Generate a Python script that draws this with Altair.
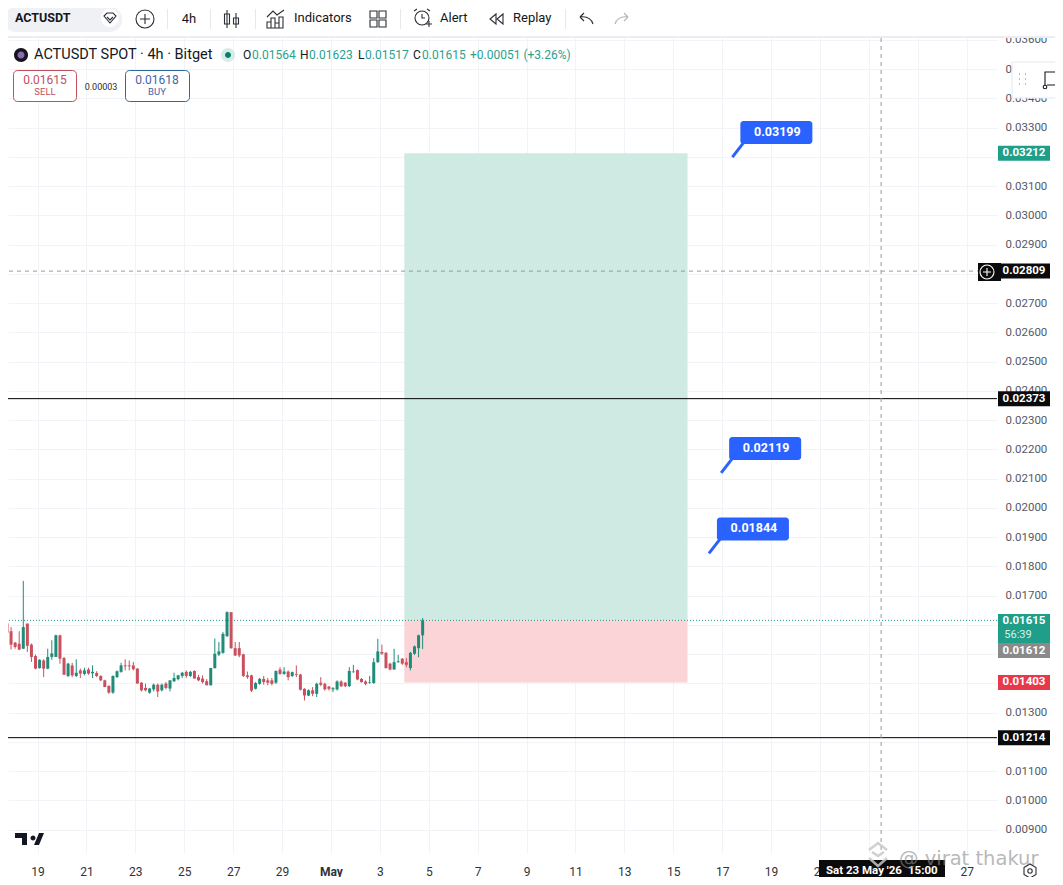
import altair as alt
import pandas as pd

# ---------- candle data (in 1e-5 USDT) ----------
opens = [1604,1578,1539,1535,1518,1604,1532,1493,1452,1478,1450,1490,1490,1564,1486,1425,1461,1425,1444,1432,
         1447,1434,1435,1425,1410,1391,1368,1421,1439,1461,1461,1461,1450,1402,1384,1368,1379,1395,1376,1399,
         1382,1407,1414,1425,1439,1425,1442,1421,1416,1407,1393,1452,1498,1504,1561,1643,1520,1520,1499,1427,
         1427,1381,1398,1415,1410,1410,1402,1447,1432,1440,1425,1432,1430,1381,1358,1376,1364,1402,1398,1389,
         1379,1379,1406,1402,1390,1438,1445,1415,1406,1402,1401,1472,1507,1504,1467,1447,1472,1484,1472,1452,
         1501,1520,1564]
highs = [1623,1592,1541,1578,1750,1604,1536,1498,1482,1482,1518,1547,1566,1566,1490,1470,1470,1482,1450,1453,
         1453,1461,1441,1427,1412,1393,1427,1444,1470,1482,1478,1473,1452,1404,1399,1384,1399,1399,1399,1404,
         1410,1436,1429,1439,1444,1442,1444,1429,1427,1414,1452,1553,1541,1575,1646,1643,1541,1541,1501,1440,
         1429,1404,1418,1425,1418,1418,1444,1455,1455,1444,1440,1461,1432,1383,1379,1387,1402,1421,1402,1390,
         1387,1410,1410,1404,1455,1463,1447,1418,1410,1425,1486,1552,1532,1507,1470,1518,1497,1486,1486,1507,
         1529,1566,1623]
lows = [1558,1515,1518,1513,1518,1507,1473,1448,1450,1421,1448,1480,1490,1467,1429,1421,1421,1421,1418,1427,
        1429,1418,1421,1407,1387,1364,1364,1418,1436,1444,1444,1444,1399,1372,1372,1364,1372,1353,1372,1379,
        1372,1404,1410,1418,1418,1421,1416,1407,1399,1393,1393,1450,1493,1501,1558,1518,1493,1489,1421,1415,
        1370,1379,1395,1395,1393,1393,1398,1429,1429,1410,1421,1421,1375,1341,1356,1356,1353,1390,1375,1375,
        1370,1375,1387,1387,1387,1436,1410,1402,1393,1398,1398,1470,1497,1450,1444,1447,1470,1463,1455,1444,
        1497,1489,1517]
closes = [1573,1532,1524,1515,1592,1528,1490,1450,1480,1450,1490,1502,1564,1484,1429,1467,1427,1436,1433,1444,
          1433,1439,1425,1410,1387,1368,1425,1441,1461,1458,1458,1448,1399,1376,1376,1382,1395,1372,1395,1384,
          1410,1418,1427,1436,1425,1439,1416,1410,1404,1393,1452,1501,1509,1569,1643,1520,1495,1495,1425,1421,
          1375,1401,1415,1404,1402,1398,1442,1432,1440,1421,1438,1429,1378,1358,1376,1364,1398,1395,1379,1381,
          1383,1406,1390,1390,1442,1440,1413,1404,1398,1404,1472,1509,1501,1452,1447,1472,1475,1467,1463,1504,
          1526,1564,1615]
candle_times = pd.date_range("2026-04-17 18:00", periods=len(opens), freq="4h")

# ---------- axis values ----------
price_ticks = [0.009,0.010,0.011,0.012,0.013,0.014,0.015,0.016,0.017,0.018,0.019,0.020,0.021,0.022,
               0.023,0.024,0.025,0.026,0.027,0.028,0.029,0.030,0.031,0.032,0.033,0.034,0.035,0.036]
date_ticks = ["2026-04-19","2026-04-21","2026-04-23","2026-04-25","2026-04-27","2026-04-29","2026-05-01",
              "2026-05-03","2026-05-05","2026-05-07","2026-05-09","2026-05-11","2026-05-13","2026-05-15",
              "2026-05-17","2026-05-19","2026-05-21","2026-05-23","2026-05-25","2026-05-27"]

# ---------- drawing levels ----------
target_price, entry_price, stop_price = 0.03212, 0.01615, 0.01403
pos_start, pos_end = "2026-05-04T00:00:00Z", "2026-05-15T14:00:00Z"
level_prices = [0.02373, 0.01214]
cross_price, cross_time = 0.02809, "2026-05-23T12:00:00Z"
note_prices = [0.03199, 0.02119, 0.01844]
note_times = ["2026-05-17T10:00:00Z", "2026-05-16T23:00:00Z", "2026-05-16T11:00:00Z"]
tag_prices = [0.03212, 0.02373, 0.01214, 0.01403, 0.02809]
tag_texts = ["0.03212", "0.02373", "0.01214", "0.01403", "0.02809"]
tag_fills = ["#1f9e89", "#0b0b0b", "#0b0b0b", "#e8394a", "#0b0b0b"]

FONT = "Roboto"
GREEN, RED = "#1e8c79", "#c9505e"
GRID = "#f1f3f6"
LABEL = "#555963"


def iso(ts):
    return pd.Timestamp(ts).strftime("%Y-%m-%dT%H:%M:00Z")


def ms(ts):
    return int(pd.Timestamp(ts, tz="UTC").timestamp() * 1000)


candles = pd.DataFrame({
    "t": [iso(t) for t in candle_times],
    "o": [v / 1e5 for v in opens], "h": [v / 1e5 for v in highs],
    "l": [v / 1e5 for v in lows], "c": [v / 1e5 for v in closes],
})
candles["dir"] = ["up" if c >= o else "down" for o, c in zip(opens, closes)]

xs = alt.Scale(type="utc", nice=False, padding=0, domain=[ms("2026-04-17 19:00"), ms("2026-05-28 05:46")])
ys = alt.Scale(zero=False, nice=False, padding=0, domain=[0.008197, 0.036060])
dir_scale = alt.Scale(domain=["up", "down"], range=[GREEN, RED])

x_axis = alt.Axis(values=[ms(d) for d in date_ticks], title=None, domain=False, ticks=False, grid=True,
                  gridColor=GRID, gridWidth=1, labelColor="#2f323a", labelFont=FONT, labelFontSize=12,
                  labelPadding=13, labelFlush=False, labelOverlap=False,
                  labelExpr="utcdate(datum.value)==1 ? 'May' : utcdate(datum.value)",
                  labelFontWeight={"condition": {"test": "utcdate(datum.value)==1", "value": "bold"}, "value": "normal"})
y_axis = alt.Axis(values=price_ticks, orient="right", title=None, domain=False, ticks=False, grid=True,
                  gridColor=GRID, gridWidth=1, labelColor=LABEL, labelFont=FONT, labelFontSize=11.5,
                  labelPadding=8, format=".5f", labelFlush=False, labelOverlap=False)

X = lambda f="t:T": alt.X(f, scale=xs, axis=x_axis)
Y = lambda f: alt.Y(f, scale=ys, axis=y_axis)

layers = []

pos = pd.DataFrame({"a": [pos_start] * 2, "b": [pos_end] * 2,
                    "p0": [entry_price, entry_price], "p1": [target_price, stop_price],
                    "f": ["#cfe9e3", "#fbd4d7"]})
layers.append(alt.Chart(pos).mark_rect().encode(x=X("a:T"), x2="b:T", y=Y("p0:Q"), y2="p1:Q",
                                                fill=alt.Fill("f:N", scale=None)))

layers.append(alt.Chart(candles).mark_rule(strokeWidth=1).encode(
    x=X(), y=Y("h:Q"), y2="l:Q", color=alt.Color("dir:N", scale=dir_scale, legend=None)))
layers.append(alt.Chart(candles).mark_bar(size=3).encode(
    x=X(), y=Y("o:Q"), y2="c:Q", color=alt.Color("dir:N", scale=dir_scale, legend=None)))

# horizontal levels
layers.append(alt.Chart(pd.DataFrame({"p": level_prices})).mark_rule(color="#000000", strokeWidth=1).encode(y=Y("p:Q")))
layers.append(alt.Chart(pd.DataFrame({"p": [entry_price]})).mark_rule(color="#1e9a86", strokeWidth=1, strokeDash=[1, 2]).encode(y=Y("p:Q")))
layers.append(alt.Chart(pd.DataFrame({"p": [cross_price]})).mark_rule(color="#9598a1", strokeWidth=1, strokeDash=[4, 4]).encode(y=Y("p:Q")))
layers.append(alt.Chart(pd.DataFrame({"t": [cross_time]})).mark_rule(color="#9598a1", strokeWidth=1, strokeDash=[4, 4]).encode(x=X()))

# blue callouts
notes = pd.DataFrame({"t": note_times, "p": note_prices, "s": [f"{v:.5f}" for v in note_prices]})
layers.append(alt.Chart(notes).mark_rule(color="#2962ff", strokeWidth=3, x2Offset=14, y2Offset=-18).encode(
    x=X(), x2="t:T", y=Y("p:Q"), y2="p:Q"))
layers.append(alt.Chart(notes).mark_rect(color="#2962ff", cornerRadius=3, xOffset=8, x2Offset=80, yOffset=-36, y2Offset=-13).encode(
    x=X(), x2="t:T", y=Y("p:Q"), y2="p:Q"))
layers.append(alt.Chart(notes).mark_text(color="#ffffff", font=FONT, fontSize=12.5, fontWeight="bold", dx=45, dy=-25).encode(
    x=X(), y=Y("p:Q"), text="s:N"))


# ---------- interface furniture, placed in page pixels ----------
one = alt.Data(values=[{"a": 1}])
P = lambda x: x - 8
Q = lambda y: y - 38


def T(text, x, y, size=12, color="#131722", weight="normal", align="left", font=FONT, opacity=1):
    return alt.Chart(one).mark_text(text=text, align=align, baseline="middle", fontSize=size, color=color,
                                    fontWeight=weight, font=font, opacity=opacity).encode(
        x=alt.value(P(x)), y=alt.value(Q(y)))


def R(x1, y1, x2, y2, fill="#ffffff", stroke=None, radius=0, sw=1):
    kw = dict(fill=fill, cornerRadius=radius)
    if stroke:
        kw.update(stroke=stroke, strokeWidth=sw)
    return alt.Chart(one).mark_rect(**kw).encode(x=alt.value(P(x1)), x2=alt.value(P(x2)),
                                                 y=alt.value(Q(y1)), y2=alt.value(Q(y2)))


def I(path, x, y, stroke="#2b2e36", fill=None, sw=1.1, opacity=1):
    kw = dict(shape=path, size=4, opacity=opacity, strokeWidth=sw)
    if fill:
        kw.update(filled=True, fill=fill)
        if stroke:
            kw.update(stroke=stroke)
    else:
        kw.update(filled=False, stroke=stroke)
    return alt.Chart(one).mark_point(**kw).encode(x=alt.value(P(x)), y=alt.value(Q(y)))


def circle(r):
    return f"M{-r},0a{r},{r} 0 1,0 {2*r},0a{r},{r} 0 1,0 {-2*r},0Z"


# toolbar
layers += [
    R(0, 0, 1063, 36), R(0, 36, 1063, 38, fill="#ebedf1"),
    R(4, 7, 122, 32, fill="#eff1f5", radius=12),
    T("ACTUSDT", 15, 18, 12.5, "#131722", "bold"),
    I(circle(9), 110, 18, stroke=None, fill="#ffffff"),
    I("M-6,-2L-3,-5H3L6,-2L0,5ZM-3,-1L0,2L3,-1", 110, 18),
    I(circle(9), 145, 19), I("M-5,0H5M0,-5V5", 145, 19),
    T("4h", 189, 19, 13, align="center"),
    I("M-5,-9V9M-7.5,-5H-2.5V5H-7.5ZM4,-6V9M1.5,-1H6.5V5H1.5Z", 232, 19, fill=None),
    I("M-9,9V3H-5V9ZM-5,9V-1H-1V9ZM-1,9V4H3V9ZM3,9V-2H7V9ZM-9,-2L-3,-8L1,-4L8,-9", 276, 19),
    T("Indicators", 294, 18, 13),
    I("M-8,-8H-1V-1H-8ZM1,-8H8V-1H1ZM-8,1H-1V8H-8ZM1,1H8V8H1Z", 378, 19),
    I(circle(7), 422, 18), I("M0,-4V0H3M-8,-7L-5,-9M8,-7L5,-9M4,6H10M7,3V9", 422, 18),
    T("Alert", 440, 18, 13),
    I("M-1,-5L-7,0L-1,5ZM6,-5L0,0L6,5Z", 497, 19),
    T("Replay", 513, 18, 13),
    I("M7,5C5,-1 1,-3 -6,-2M-6,-2L-2,-6M-6,-2L-2,2", 586, 19),
    I("M-7,5C-5,-1 -1,-3 6,-2M6,-2L2,-6M6,-2L2,2", 622, 19, stroke="#b2b5be"),
]
for sx in [167, 210, 255, 400, 565]:
    layers.append(R(sx, 9, sx + 1, 29, fill="#e6e8ee"))

# legend line
layers += [
    I(circle(7), 21, 55, stroke=None, fill="#17131f"), I(circle(3.5), 21, 55, stroke=None, fill="#8a6bb0"),
    T("ACTUSDT SPOT · 4h · Bitget", 34, 55, 14.5),
    I(circle(7), 228, 55, stroke=None, fill="#d5ece8"), I(circle(3), 228, 55, stroke=None, fill="#0b7d6b"),
]
GT = "#2aa18e"
for s, x, c in [("O", 243, "#131722"), ("0.01564", 252, GT), ("H", 300, "#131722"), ("0.01623", 309, GT),
                ("L", 358, "#131722"), ("0.01517", 365, GT), ("C", 413, "#131722"), ("0.01615", 422, GT),
                ("+0.00051 (+3.26%)", 470, GT)]:
    layers.append(T(s, x, 55, 12, c))

# sell / buy boxes
layers += [
    R(13.5, 70.5, 76.5, 101.5, stroke="#c0505c", radius=4),
    T("0.01615", 45, 80, 12, "#c0505c", align="center"), T("SELL", 45, 92, 9.5, "#c0505c", align="center"),
    T("0.00003", 101, 87, 9, "#2b2e36", align="center"),
    R(125.5, 70.5, 189.5, 101.5, stroke="#2f6a9c", radius=4),
    T("0.01618", 157, 80, 12, "#3f66ac", align="center"), T("BUY", 157, 92, 9.5, "#3f66ac", align="center"),
]

# price tags
tags = pd.DataFrame({"p": tag_prices, "s": tag_texts, "f": tag_fills})
layers.append(R(978, 263, 1001, 281, fill="#0b0b0b"))
layers.append(I(circle(7), 987, 272, stroke="#ffffff"))
layers.append(I("M-4,0H4M0,-4V4", 987, 272, stroke="#ffffff"))
layers.append(alt.Chart(tags).mark_rect(yOffset=-7.5, y2Offset=7.5).encode(
    x=alt.value(P(998)), x2=alt.value(P(1050)), y=Y("p:Q"), y2="p:Q", fill=alt.Fill("f:N", scale=None)))
layers.append(alt.Chart(tags).mark_text(color="#ffffff", font=FONT, fontSize=11.5, fontWeight="bold").encode(
    x=alt.value(P(1024)), y=Y("p:Q"), text="s:N"))
layers += [
    R(998, 614, 1050, 643, fill="#1f9e89"), R(998, 643, 1050, 658, fill="#8a8a8a"),
    T("0.01615", 1024, 621, 11.5, "#ffffff", "bold", "center"),
    T("56:39", 1018, 635, 11, "#d7f0ea", align="center"),
    T("0.01612", 1024, 651, 11.5, "#ffffff", "bold", "center"),
]

# floating widget
layers += [
    R(1012, 62, 1063, 98, stroke="#e6e8ee"),
    I("M-3,-5h1M3,-5h1M-3,0h1M3,0h1M-3,5h1M3,5h1", 1022, 79, stroke="#b8bcc6", sw=2),
    I("M-9,6V-7H8V6H-7", 1054, 79, stroke="#131722"),
    I(circle(1.8), 1045, 87, stroke="#131722"),
]

# TradingView mark and time-axis furniture
layers += [
    I("M-14,-6H-2V6H-7V-1H-14ZM4,-3.5a2.5,2.5 0 1,0 0.01,0ZM5,6L10,-6H15L10,6Z", 29, 839, stroke=None, fill="#131722"),
    R(819, 860, 945, 881, fill="#0b0b0b"),
    T("Sat 23 May '26", 826, 871, 11.5, "#ffffff", "bold"),
    T("15:00", 908, 871, 11.5, "#ffffff", "bold"),
    I("M-6,-3.5L0,-7L6,-3.5V3.5L0,7L-6,3.5Z", 1030, 871),
    I(circle(2.2), 1030, 871),
    # watermark
    I("M-9,-8L0,-15L9,-8M-9,0L0,8L9,0M-6,-6L0,-2L6,-6", 878, 858, stroke="#c8c8c8", sw=2.5, opacity=0.85),
    T("@ virat thakur", 899, 859, 19.5, "#8a8a8a", font="DejaVu Sans", opacity=0.6),
]

chart = alt.layer(*layers).properties(
    width=989, height=815, background="#ffffff",
    padding={"left": 0, "right": 58, "top": 30, "bottom": 24},
    autosize=alt.AutoSizeParams(type="none"),
).configure_view(stroke=None)

chart.save("out.html", embed_options={"renderer": "svg", "actions": False})
